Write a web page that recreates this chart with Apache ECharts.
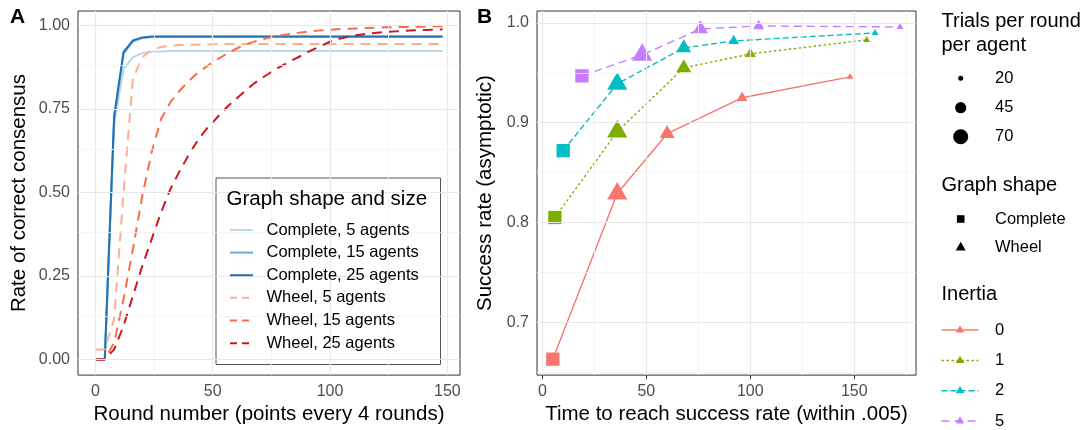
<!DOCTYPE html>
<html>
<head>
<meta charset="utf-8">
<script src="https://cdn.jsdelivr.net/npm/echarts@6/dist/echarts.min.js"></script>
<style>
  html, body { margin: 0; padding: 0; background: #fff; }
  #chart { width: 1088px; height: 430px; }
</style>
</head>
<body>
<div id="chart"></div>
<script>
// ---- panel A : rate of correct consensus, one point every 4 rounds ----
const rounds = [0, 4, 8, 12, 16, 20, 24, 28, 32, 36, 40, 44, 48, 52, 56, 60, 64, 68, 72, 76,
  80, 84, 88, 92, 96, 100, 104, 108, 112, 116, 120, 124, 128, 132, 136, 140, 144, 148]

const complete5 = [0, 0, 0.70, 0.87, 0.905, 0.917, 0.921, 0.922, 0.923, 0.923, 0.923, 0.923, 0.923,
  0.923, 0.923, 0.923, 0.923, 0.923, 0.923, 0.923, 0.923, 0.923, 0.923, 0.923, 0.923, 0.923,
  0.923, 0.923, 0.923, 0.923, 0.923, 0.923, 0.923, 0.923, 0.923, 0.923, 0.923, 0.923]
const complete15 = [0, 0, 0.72, 0.915, 0.952, 0.962, 0.965, 0.966, 0.966, 0.966, 0.966, 0.966,
  0.966, 0.966, 0.966, 0.966, 0.966, 0.966, 0.966, 0.966, 0.966, 0.966, 0.966, 0.966, 0.966,
  0.966, 0.966, 0.966, 0.966, 0.966, 0.966, 0.966, 0.966, 0.966, 0.966, 0.966, 0.966, 0.966]
const complete25 = [0, 0, 0.73, 0.92, 0.955, 0.964, 0.967, 0.967, 0.967, 0.967, 0.967, 0.967,
  0.967, 0.967, 0.967, 0.967, 0.967, 0.967, 0.967, 0.967, 0.967, 0.967, 0.967, 0.967, 0.967,
  0.967, 0.967, 0.967, 0.967, 0.967, 0.967, 0.967, 0.967, 0.967, 0.967, 0.967, 0.967, 0.967]
const wheel5 = [0.03, 0.03, 0.12, 0.50, 0.84, 0.905, 0.926, 0.935, 0.939, 0.941, 0.942, 0.943,
  0.943, 0.944, 0.944, 0.944, 0.944, 0.944, 0.944, 0.944, 0.944, 0.944, 0.944, 0.944, 0.944,
  0.944, 0.944, 0.944, 0.944, 0.944, 0.944, 0.944, 0.944, 0.944, 0.944, 0.944, 0.944, 0.944]
const wheel15 = [0, 0, 0.05, 0.18, 0.33, 0.49, 0.62, 0.72, 0.77, 0.805, 0.835, 0.86, 0.88, 0.898,
  0.915, 0.93, 0.943, 0.952, 0.96, 0.966, 0.971, 0.975, 0.979, 0.982, 0.985, 0.987, 0.989,
  0.99, 0.991, 0.992, 0.993, 0.994, 0.995, 0.995, 0.996, 0.996, 0.997, 0.997]
const wheel25 = [0, 0, 0.03, 0.10, 0.19, 0.28, 0.36, 0.44, 0.51, 0.565, 0.615, 0.66, 0.695, 0.725,
  0.755, 0.78, 0.805, 0.828, 0.847, 0.865, 0.881, 0.896, 0.91, 0.925, 0.938, 0.951, 0.96,
  0.966, 0.971, 0.975, 0.978, 0.98, 0.982, 0.984, 0.985, 0.986, 0.987, 0.988]

const shapeSizeNames = ['Complete, 5 agents', 'Complete, 15 agents', 'Complete, 25 agents',
  'Wheel, 5 agents', 'Wheel, 15 agents', 'Wheel, 25 agents']

// ---- panel B : success rate vs time to reach it ----
const inertiaLevels = ['0', '1', '2', '5']
const graphShapes = ['Complete', 'Wheel', 'Wheel', 'Wheel', 'Wheel']
const trials = [70, 70, 45, 30, 20]
const time0 = [5, 36, 60, 96, 148]
const rate0 = [0.663, 0.829, 0.889, 0.925, 0.946]
const time1 = [6, 36, 68, 100, 156]
const rate1 = [0.805, 0.891, 0.955, 0.969, 0.983]
const time2 = [10, 36, 68, 92, 160]
const rate2 = [0.872, 0.939, 0.975, 0.982, 0.990]
const time5 = [19, 48, 76, 104, 172]
const rate5 = [0.947, 0.968, 0.994, 0.997, 0.996]

const sizeBreaks = [20, 45, 70]
const shapeKeys = ['Complete', 'Wheel']

// ticks
const xTicksA = [0, 50, 100, 150]
const yTicksA = [0, 0.25, 0.5, 0.75, 1]
const xMinorA = [25, 75, 125]
const yMinorA = [0.125, 0.375, 0.625, 0.875]
const xTicksB = [0, 50, 100, 150]
const yTicksB = [0.7, 0.8, 0.9, 1.0]
const xMinorB = [25, 75, 125, 175]
const yMinorB = [0.65, 0.75, 0.85, 0.95]

const FONT = '"Liberation Sans", Arial, sans-serif'
const blues = ['#bdd7e7', '#6baed6', '#2171b5']
const reds = ['#fcae91', '#fb6a4a', '#cb181d']
const colorsA = blues.concat(reds)
const dashA = [null, null, null, [10, 7], [10, 7], [10, 7]]
const hue = ['#F8766D', '#7CAE00', '#00BFC4', '#C77CFF']
const inertiaDash = [null, [2.5, 2.5], [6, 3], [8, 5]]

// point diameter from trials (area grows linearly)
function diam(t) {
  return Math.sqrt(25 + 4 * (t - 20))
}

function triPoints(cx, cy, d) {
  // R-style filled triangle, centred on its centroid
  const r = 0.778 * d
  return [[cx, cy - r], [cx - 0.866 * r, cy + r / 2], [cx + 0.866 * r, cy + r / 2]]
}

function pointsB(times, rates) {
  return times.map((t, i) => {
    const d = diam(trials[i])
    const sq = graphShapes[i] === 'Complete'
    return {
      value: [t, rates[i]],
      symbol: sq ? 'rect' : 'triangle',
      symbolSize: sq ? [0.886 * d, 0.886 * d] : [1.347 * d, 1.166 * d],
      symbolOffset: sq ? [0, 0] : [0, -0.19 * d]
    }
  })
}

function gridLines(idx, xs, ys, xm, ym) {
  const major = { color: '#e8e8e8', width: 1.2, type: 'solid' }
  const minor = { color: '#f3f3f3', width: 0.8, type: 'solid' }
  const data = []
  xm.forEach(v => data.push({ xAxis: v, lineStyle: minor }))
  ym.forEach(v => data.push({ yAxis: v, lineStyle: minor }))
  xs.forEach(v => data.push({ xAxis: v, lineStyle: major }))
  ys.forEach(v => data.push({ yAxis: v, lineStyle: major }))
  return {
    type: 'line', data: [], xAxisIndex: idx, yAxisIndex: idx, z: 1, silent: true,
    markLine: { silent: true, symbol: ['none', 'none'], label: { show: false }, animation: false, data }
  }
}

function axisCommon() {
  return {
    axisLine: { show: false },
    axisTick: { show: true, length: 4, lineStyle: { color: '#333', width: 1 } },
    axisLabel: { color: '#4d4d4d', fontSize: 16, fontFamily: FONT, margin: 8 },
    splitLine: { show: false },
    nameLocation: 'middle',
    nameTextStyle: { color: '#000', fontSize: 20.5, fontFamily: FONT }
  }
}

const seriesA = [complete5, complete15, complete25, wheel5, wheel15, wheel25].map((arr, k) => ({
  name: shapeSizeNames[k],
  type: 'line',
  xAxisIndex: 0, yAxisIndex: 0,
  data: rounds.map((r, i) => [r, arr[i]]),
  symbol: 'none',
  color: colorsA[k],
  lineStyle: { width: 2, type: dashA[k] || 'solid' },
  z: 2 + k * 0.01
}))

const seriesB = [[time0, rate0], [time1, rate1], [time2, rate2], [time5, rate5]].map((p, k) => ({
  name: inertiaLevels[k],
  type: 'line',
  xAxisIndex: 1, yAxisIndex: 1,
  data: pointsB(p[0], p[1]),
  symbol: 'triangle',
  showSymbol: true,
  color: hue[k],
  itemStyle: { color: hue[k] },
  lineStyle: { width: 1.4, type: inertiaDash[k] || 'solid' },
  z: 2 + k * 0.01
}))

const chart = echarts.init(document.getElementById('chart'), null, { renderer: 'canvas' })

const xA = Object.assign(axisCommon(), {
  gridIndex: 0, type: 'value', min: -7.4, max: 155.4,
  name: 'Round number (points every 4 rounds)', nameGap: 27
})
xA.axisLabel.customValues = xTicksA
xA.axisTick.customValues = xTicksA

const yA = Object.assign(axisCommon(), {
  gridIndex: 0, type: 'value', min: -0.047, max: 1.043,
  name: 'Rate of correct consensus', nameGap: 48
})
yA.axisLabel.customValues = yTicksA
yA.axisLabel.formatter = v => v.toFixed(2)
yA.axisTick.customValues = yTicksA

const xB = Object.assign(axisCommon(), {
  gridIndex: 1, type: 'value', min: -2.6, max: 179.7,
  name: 'Time to reach success rate (within .005)', nameGap: 27
})
xB.axisLabel.customValues = xTicksB
xB.axisTick.customValues = xTicksB

const yB = Object.assign(axisCommon(), {
  gridIndex: 1, type: 'value', min: 0.647, max: 1.012,
  name: 'Success rate (asymptotic)', nameGap: 41
})
yB.axisLabel.customValues = yTicksB
yB.axisLabel.formatter = v => v.toFixed(1)
yB.axisTick.customValues = yTicksB

// legend keys drawn by hand
const keyFont = '16.5px ' + FONT
function keyText(x, y, text) {
  return { type: 'text', z: 6, x, y, style: { text, font: keyFont, fill: '#000', verticalAlign: 'middle' } }
}
const g = []

// box + keys for panel A
g.push({ type: 'rect', z: 3, shape: { x: 216, y: 178, width: 224.5, height: 186.5 }, style: { fill: '#fff', stroke: '#555', lineWidth: 1 } })
const keyYA = [230, 252.6, 275.2, 297.8, 320.5, 343.2]
shapeSizeNames.forEach((name, k) => {
  g.push({
    type: 'line', z: 6, shape: { x1: 230, y1: keyYA[k], x2: 253, y2: keyYA[k] },
    style: { stroke: colorsA[k], lineWidth: 2, lineDash: dashA[k] ? [7, 5] : null }
  })
  g.push(keyText(266.5, keyYA[k], name))
})

// size keys
const sizeKeyY = [78.3, 107.7, 136.7]
sizeBreaks.forEach((t, i) => {
  g.push({ type: 'circle', z: 6, shape: { cx: 960.7, cy: sizeKeyY[i], r: diam(t) / 2 }, style: { fill: '#000' } })
  g.push(keyText(995, sizeKeyY[i], String(t)))
})

// shape keys
g.push({ type: 'rect', z: 6, shape: { x: 960.7 - 3.8, y: 219 - 3.8, width: 7.6, height: 7.6 }, style: { fill: '#000' } })
g.push(keyText(995, 219, shapeKeys[0]))
g.push({ type: 'polygon', z: 6, shape: { points: triPoints(960.7, 247.5, 7.4) }, style: { fill: '#000' } })
g.push(keyText(995, 247.5, shapeKeys[1]))

// inertia keys
const keyYI = [330, 360.5, 390.8, 421]
inertiaLevels.forEach((lv, k) => {
  g.push({
    type: 'line', z: 6, shape: { x1: 941.5, y1: keyYI[k], x2: 978.5, y2: keyYI[k] },
    style: { stroke: hue[k], lineWidth: 1.4, lineDash: inertiaDash[k] }
  })
  g.push({ type: 'polygon', z: 6, shape: { points: triPoints(960, keyYI[k], 6.2) }, style: { fill: hue[k] } })
  g.push(keyText(995, keyYI[k], lv))
})

function heading(text, left, top, size, bold) {
  return {
    text, left, top, padding: 0,
    textStyle: { fontSize: size, lineHeight: 24, fontWeight: bold ? 'bold' : 'normal', color: '#000', fontFamily: FONT }
  }
}

chart.setOption({
  animation: false,
  backgroundColor: '#fff',
  textStyle: { fontFamily: FONT },
  title: [
    heading('A', 10, 5.5, 21, true),
    heading('B', 477, 5.5, 21, true),
    heading('Graph shape and size', 226.5, 187.5, 20.5),
    heading('Trials per round\nper agent', 941.5, 9.5, 20),
    heading('Graph shape', 941.5, 173, 20),
    heading('Inertia', 941.5, 282.5, 20)
  ],
  grid: [
    { left: 78, right: 628, top: 11, bottom: 53, show: true, backgroundColor: '#fff', borderColor: '#333', borderWidth: 1 },
    { left: 537, right: 172, top: 11, bottom: 53, show: true, backgroundColor: '#fff', borderColor: '#333', borderWidth: 1 }
  ],
  xAxis: [xA, xB],
  yAxis: [yA, yB],
  graphic: g,
  series: [
    gridLines(0, xTicksA, yTicksA, xMinorA, yMinorA),
    gridLines(1, xTicksB, yTicksB, xMinorB, yMinorB)
  ].concat(seriesA, seriesB)
})
window.addEventListener('resize', chart.resize)
</script>
</body>
</html>
